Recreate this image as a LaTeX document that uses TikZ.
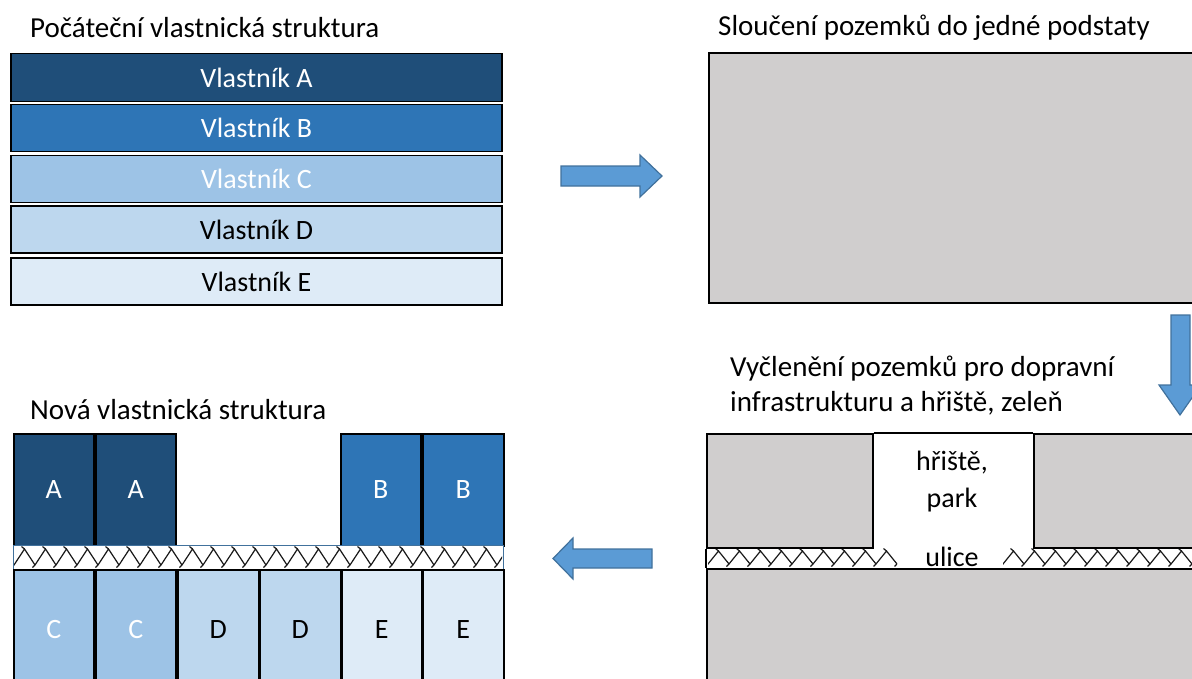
\documentclass[tikz,border=0pt]{standalone}
\usepackage{fontspec}
\setmainfont{Carlito}
\definecolor{ownA}{HTML}{1F4E79}
\definecolor{ownB}{HTML}{2E75B6}
\definecolor{ownC}{HTML}{9DC3E6}
\definecolor{ownD}{HTML}{BDD7EE}
\definecolor{ownE}{HTML}{DEEBF7}
\definecolor{lotgray}{HTML}{D0CECE}
\definecolor{arrfill}{HTML}{5B9BD5}
\definecolor{arrdraw}{HTML}{41719C}
\newcommand\hatchband[4]{%
  \begin{scope}
    \clip (#1,#3) rectangle (#2,#4);
    \pgfmathsetmacro\htop{#3+4}
    \pgfmathsetmacro\htopx{#3+1.5}
    \pgfmathsetmacro\hbot{#4-4}
    \pgfmathsetmacro\hbotx{#4-1.5}
    \pgfmathsetmacro\xsecond{#1+21}
    \foreach \xx in {#1,\xsecond,...,#2} {
      \draw[hatchline] ([xshift=-2.5]\xx,\hbotx) -- (\xx,\hbot) -- ([xshift=10.5]\xx,\htop) -- ([xshift=21]\xx,\hbot);
      \draw[hatchline] ([xshift=10.5]\xx,\htop) -- ([xshift=7.5]\xx,\htopx);
    }
  \end{scope}}
\begin{document}
\begin{tikzpicture}[x=1pt,y=-1pt,
  lbl/.style={font=\fontsize{28}{34}\selectfont, inner sep=0pt},
  ttl/.style={font=\fontsize{29}{35}\selectfont, inner sep=0pt, anchor=west},
  cell/.style={draw=black, line width=1.6pt, inner sep=0pt, font=\fontsize{28}{34}\selectfont},
  rowbox/.style={cell, minimum width=491, minimum height=47},
  small/.style={cell, minimum width=80, anchor=north west},
  graybox/.style={draw=black, line width=1.6pt, fill=lotgray},
  hatchline/.style={draw=black!90, line width=1.2pt},
  blockarrow/.style={fill=arrfill, draw=arrdraw, line width=1.2pt, line join=miter}]
\useasboundingbox (0,0) rectangle (1192,678);
\clip (0,0) rectangle (1192,678);

% titles
\node[ttl] (t1) at (30,28) {Počáteční vlastnická struktura};
\node[ttl] (t2) at (718,28) {Sloučení pozemků do jedné podstaty};
\node[ttl] (t3) at (30,410) {Nová vlastnická struktura};
\node[ttl, align=left, font=\fontsize{29}{35}\selectfont] (t4) at (730,386) {Vyčlenění pozemků pro dopravní\\infrastrukturu a hřiště, zeleň};

% initial structure
\node[rowbox, fill=ownA, text=white, minimum height=48] (rA) at (256.5,77.5) {Vlastník A};
\node[rowbox, fill=ownB, text=white] (rB) at (256.5,128) {Vlastník B};
\node[rowbox, fill=ownC, text=white] (rC) at (256.5,179) {Vlastník C};
\node[rowbox, fill=ownD, text=black] (rD) at (256.5,229.5) {Vlastník D};
\node[rowbox, fill=ownE, text=black] (rE) at (256.5,281.5) {Vlastník E};

% merged plot
\node[graybox, minimum width=502, minimum height=250, anchor=north west] (merged) at (708,52) {};

% arrows
\draw[blockarrow] (561,166) -- (640,166) -- (640,155) -- (662,176) -- (640,197) -- (640,186) -- (561,186) -- cycle;
\draw[blockarrow] (1171,315) -- (1190,315) -- (1190,385) -- (1201,385) -- (1180,415) -- (1159,385) -- (1171,385) -- cycle;
\draw[blockarrow] (652,549) -- (573,549) -- (573,538) -- (553,558.5) -- (573,579) -- (573,568) -- (652,568) -- cycle;

% separated plots
\node[fill=white, minimum width=496, minimum height=21, anchor=north west, inner sep=0pt] (road) at (706,547) {};
\hatchband{708}{897}{547}{568}
\hatchband{1003}{1205}{547}{568}
\node[graybox, minimum width=166, minimum height=114, anchor=north west] (lotL) at (706,433) {};
\node[graybox, minimum width=170, minimum height=114, anchor=north west] (lotR) at (1033,433) {};
\draw[black, line width=1.6pt] (lotL.north east) -- (lotR.north west);
\node[graybox, minimum width=496, minimum height=130, anchor=north west] (lotB) at (706,568) {};
\draw[black, line width=1.6pt] (lotL.south west) -- (lotB.north west);
\node[lbl] (ulice) at (952,557) {ulice};
\node[lbl, align=center, font=\fontsize{28}{37}\selectfont] (park) at (952,481.5) {hřiště,\\park};

% new structure
\node[small, fill=ownA, text=white, minimum height=112] (a1) at (13,433) {A};
\node[small, fill=ownA, text=white, minimum height=112] (a2) at (95,433) {A};
\node[small, fill=ownB, text=white, minimum height=112] (b1) at (340,433) {B};
\node[small, fill=ownB, text=white, minimum height=112, minimum width=81] (b2) at (422,433) {B};
\node[draw=arrdraw, line width=1pt, fill=white, minimum width=490, minimum height=24, anchor=north west, inner sep=0pt] (road2) at (13,545) {};
\hatchband{14}{502}{545}{569}
\node[small, fill=ownC, text=white, minimum height=120] (c1) at (13,569) {C};
\node[small, fill=ownC, text=white, minimum height=120] (c2) at (95,569) {C};
\node[small, fill=ownD, text=black, minimum height=120, minimum width=81] (d1) at (177,569) {D};
\node[small, fill=ownD, text=black, minimum height=120, minimum width=81] (d2) at (259,569) {D};
\node[small, fill=ownE, text=black, minimum height=120] (e1) at (341,569) {E};
\node[small, fill=ownE, text=black, minimum height=120, minimum width=81] (e2) at (422,569) {E};
\end{tikzpicture}
\end{document}
